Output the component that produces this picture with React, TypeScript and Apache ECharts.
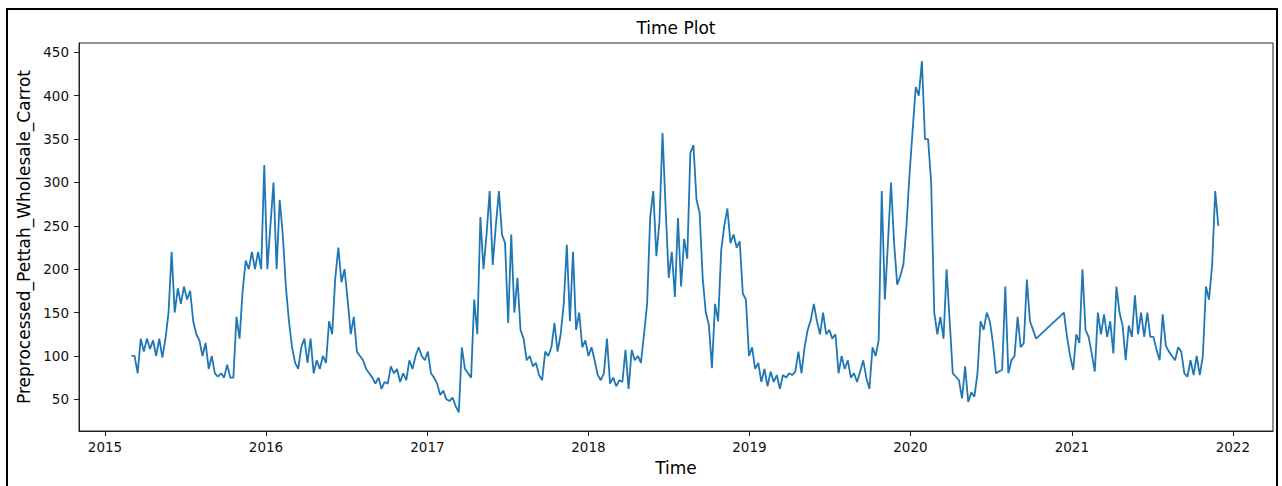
import React, { useEffect, useRef } from "react";
import * as echarts from "echarts";

// Weekly observations starting 2015-03-02 (null = missing data, joined by a straight line)
const START_DATE = Date.UTC(2015, 2, 2);
const STEP_DAYS = 7;

const carrotPrices: (number | null)[] = [
  100, 100, 80, 120, 105, 120, 108, 118, 100, 120,
  98, 120, 150, 220, 150, 178, 160, 180, 165, 175,
  140, 125, 118, 100, 115, 85, 100, 80, 76, 80,
  75, 90, 75, 75, 145, 120, 175, 210, 200, 220,
  200, 220, 200, 320, 200, 250, 300, 200, 280, 240,
  180, 140, 110, 92, 85, 110, 120, 92, 120, 80,
  95, 85, 100, 92, 140, 125, 190, 225, 185, 200,
  165, 125, 145, 105, 100, 95, 85, 80, 75, 68,
  75, 62, 70, 68, 88, 80, 85, 70, 80, 72,
  95, 85, 100, 110, 100, 95, 105, 80, 75, 68,
  55, 60, 50, 48, 52, 42, 35, 110, 85, 80,
  75, 165, 125, 260, 200, 240, 290, 205, 250, 290,
  240, 230, 138, 240, 150, 190, 130, 120, 95, 100,
  88, 92, 78, 72, 105, 100, 110, 138, 105, 125,
  160, 228, 140, 220, 130, 150, 110, 118, 100, 110,
  95, 78, 72, 80, 120, 68, 75, 65, 72, 70,
  107, 62, 107, 95, 100, 92, 125, 160, 260, 290,
  215, 255, 357, 270, 190, 220, 168, 259, 180, 235,
  212, 334, 343, 280, 265, 190, 150, 136, 86, 160,
  140, 222, 250, 270, 230, 240, 225, 232, 172, 165,
  100, 110, 85, 92, 70, 85, 65, 82, 70, 78,
  62, 78, 75, 80, 78, 82, 105, 80, 110, 130,
  141, 160, 140, 125, 150, 125, 130, 120, 125, 80,
  100, 85, 95, 75, 80, 70, 82, 95, 75, 62,
  110, 100, 118, 290, 165, 230, 300, 230, 182, 192,
  205, 250, 310, 360, 410, 400, 440, 350, 350, 300,
  150, 125, 145, 120, 200, 140, 80, 76, 72, 51,
  88, 47, 58, 53, 80, 140, 130, 150, 140, 115,
  80, 82, 84, 180, 80, 95, 100, 145, 110, 115,
  188, 140, 130, 120, null, null, null, null, null, null,
  null, null, 150, 122, 100, 84, 125, 115, 200, 130,
  122, 103, 82, 150, 125, 148, 122, 140, 103, 180,
  150, 135, 95, 135, 122, 170, 125, 150, 122, 150,
  122, 122, 107, 95, 148, 112, 105, 100, 95, 110,
  105, 80, 76, 95, 78, 100, 78, 100, 180, 165,
  205, 290, 250,
];

const yTickValues = [50, 100, 150, 200, 250, 300, 350, 400, 450];
const xTickYears = [2015, 2016, 2017, 2018, 2019, 2020, 2021, 2022];

const TITLE = "Time Plot";
const X_NAME = "Time";
const Y_NAME = "Preprocessed_Pettah_Wholesale_Carrot";

const FONT = "DejaVu Sans";

export default function App() {
  const ref = useRef<HTMLDivElement>(null);

  useEffect(() => {
    if (!ref.current) return;
    const chart = echarts.init(ref.current, undefined, { renderer: "svg" });
    const dayMs = 86400000;
    const seriesData = carrotPrices.map((v, i) => [START_DATE + i * STEP_DAYS * dayMs, v]);
    const xTicks = xTickYears.map((y) => Date.UTC(y, 0, 1));

    chart.setOption({
      animation: false,
      backgroundColor: "#fff",
      textStyle: { fontFamily: FONT },
      graphic: [
        {
          type: "text",
          x: 676,
          y: 28,
          style: {
            text: TITLE,
            fontFamily: FONT,
            fontSize: 17,
            fill: "#000",
            align: "center",
            verticalAlign: "middle",
          },
        },
      ],
      grid: {
        left: 79,
        top: 43,
        right: 9,
        bottom: 55,
        show: true,
        borderColor: "#222",
        borderWidth: 1,
        backgroundColor: "transparent",
      },
      xAxis: {
        type: "value",
        min: Date.UTC(2014, 10, 3),
        max: Date.UTC(2022, 3, 2),
        name: X_NAME,
        nameLocation: "middle",
        nameGap: 28,
        nameTextStyle: { fontSize: 17, color: "#000", fontFamily: FONT },
        splitLine: { show: false },
        axisLine: { show: true, onZero: false, lineStyle: { color: "#222", width: 1 } },
        axisTick: { show: true, length: 5, customValues: xTicks, lineStyle: { color: "#222" } },
        axisLabel: {
          customValues: xTicks,
          formatter: (v: number) => String(new Date(v).getUTCFullYear()),
          color: "#111",
          fontSize: 13.5,
          margin: 9,
          fontFamily: FONT,
        },
      },
      yAxis: {
        type: "value",
        min: 13.5,
        max: 460.7,
        name: Y_NAME,
        nameLocation: "middle",
        nameGap: 43,
        nameTextStyle: { fontSize: 17, color: "#000", fontFamily: FONT },
        splitLine: { show: false },
        axisLine: { show: true, onZero: false, lineStyle: { color: "#222", width: 1 } },
        axisTick: { show: true, length: 5, customValues: yTickValues, lineStyle: { color: "#222" } },
        axisLabel: {
          customValues: yTickValues,
          color: "#111",
          fontSize: 13.5,
          margin: 10,
          fontFamily: FONT,
        },
      },
      series: [
        {
          type: "line",
          data: seriesData,
          showSymbol: false,
          symbol: "none",
          connectNulls: true,
          clip: true,
          lineStyle: { color: "#1f77b4", width: 1.8 },
        },
      ],
    });
    return () => chart.dispose();
  }, []);

  return (
    <div style={{ position: "fixed", left: 0, top: 0, width: 1282, height: 486, background: "#fff", overflow: "hidden" }}>
      <div ref={ref} style={{ position: "absolute", left: 0, top: 0, width: 1282, height: 486 }} />
      <div
        style={{
          position: "absolute",
          left: 6,
          top: 8,
          width: 1268,
          height: 520,
          border: "2px solid #000",
          pointerEvents: "none",
        }}
      />
    </div>
  );
}
